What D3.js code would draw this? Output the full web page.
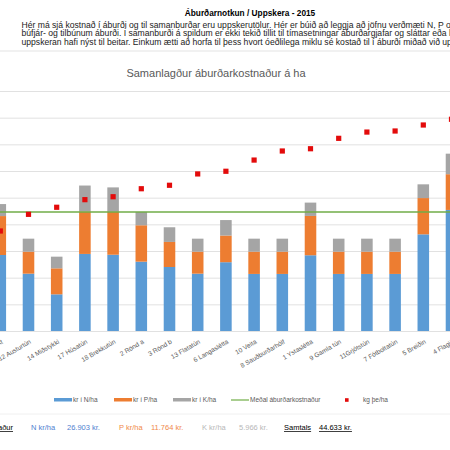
<!DOCTYPE html>
<html>
<head>
<meta charset="utf-8">
<script src="https://cdn.jsdelivr.net/npm/d3@7"></script>
<style>
  body { margin: 0; background: #fff; }
  svg { display: block; }
</style>
</head>
<body>
<div id="viz"></div>
<script>
// fields, sorted by yield
const fields = ["15 Nýrækt", "12 Austurtún", "14 Miðstykki", "17 Húsatún", "18 Brekkutún", "2 Rönd a",
  "3 Rönd b", "13 Flatatún", "6 Langaslétta", "10 Veita", "8 Sauðburðarhólf", "1 Ystaslétta",
  "9 Gamla tún", "11Grjótstún", "7 Fótboltatún", "5 Breiðin", "4 Flagið"];
// kr per ha
const krN = [28500, 21500, 13750, 28900, 28600, 26000, 24000, 21500, 25800, 21400, 21400, 28400, 21400, 21400, 21400, 36250, 45400];
const krP = [14600, 8250, 9750, 15900, 16100, 13650, 9400, 8250, 10000, 8350, 8350, 14750, 8350, 8350, 8350, 13600, 13400];
const krK = [4500, 4875, 4375, 9750, 9150, 5000, 5500, 4875, 5800, 4875, 4875, 5000, 4875, 4875, 4875, 5150, 7700];
// kg þe per ha
const kgHa = [3750, 4375, 4640, 4925, 5035, 5335, 5465, 5890, 5990, 6410, 6750, 6835, 7225, 7460, 7500, 7725, 7940];
const avgCost = 44633;

const seriesKeys = ["N", "P", "K"];
const seriesNames = ["kr í N/ha", "kr í P/ha", "kr í K/ha"];
const seriesColors = ["#5b9bd5", "#ed7d31", "#a5a5a5"];

const summaryLabels = ["N kr/ha", "P kr/ha", "K kr/ha"];
const summaryValues = ["26.903 kr.", "11.764 kr.", "5.966 kr."];
const summaryColors = ["#4f81d0", "#f08a4b", "#b8b8b8"];

const introLines = [
  "Hér má sjá kostnað í áburði og til samanburðar eru uppskerutölur. Hér er búið að leggja að jöfnu verðmæti N, P og K í",
  "búfjár- og tilbúnum áburði. Í samanburði á spildum er ekki tekið tillit til tímasetningar áburðargjafar og sláttar eða hvort",
  "uppskeran hafi nýst til beitar. Einkum ætti að horfa til þess hvort óeðlilega miklu sé kostað til í áburði miðað við uppskeru."
];

const W = 450, H = 450;
const svg = d3.select("#viz").append("svg")
  .attr("width", W).attr("height", H)
  .style("font-family", "'Liberation Sans', Arial, sans-serif");

//Header text
svg.append("text")
  .attr("x", 250).attr("y", 16)
  .attr("text-anchor", "middle")
  .style("font-size", "8.3px").style("font-weight", "bold")
  .text("Áburðarnotkun / Uppskera - 2015");

svg.selectAll(".intro").data(introLines).enter().append("text")
  .attr("class", "intro")
  .attr("x", 21.5)
  .attr("y", (d, i) => 27.5 + i * 8.5)
  .style("font-size", "8.6px")
  .style("fill", "#222")
  .text(d => d);

svg.append("line")
  .attr("x1", 0).attr("x2", W).attr("y1", 51).attr("y2", 51)
  .style("stroke", "#e3e3e3");

//Chart title
svg.append("text")
  .attr("x", 216).attr("y", 77)
  .attr("text-anchor", "middle")
  .style("font-size", "11px")
  .style("fill", "#595959")
  .text("Samanlagður áburðarkostnaður á ha");

//Scales
const x = d3.scaleBand()
  .domain(fields)
  .range([-13.8, 465.6])
  .paddingInner(0.59)
  .paddingOuter(0.295);

const y = d3.scaleLinear().domain([0, 90000]).range([331, 91]);
const y2 = d3.scaleLinear().domain([0, 9000]).range([331, 91]);

//Gridlines
svg.append("g")
  .attr("transform", "translate(-20,0)")
  .call(d3.axisLeft(y).ticks(9).tickSize(-(W + 40)).tickFormat(""))
  .call(g => g.select(".domain").remove())
  .call(g => g.selectAll("line").style("stroke", "#d9d9d9").style("stroke-width", 0.8));

//Stacked bars
const rows = fields.map((f, i) => ({ field: f, N: krN[i], P: krP[i], K: krK[i] }));
const stacked = d3.stack().keys(seriesKeys)(rows);

svg.append("g").selectAll("g").data(stacked).enter().append("g")
  .style("fill", (d, i) => seriesColors[i])
  .selectAll("rect").data(d => d).enter().append("rect")
  .attr("x", d => x(d.data.field))
  .attr("width", x.bandwidth())
  .attr("y", d => y(d[1]))
  .attr("height", d => y(d[0]) - y(d[1]));

//Average line
svg.append("line")
  .attr("x1", 0).attr("x2", W)
  .attr("y1", y(avgCost)).attr("y2", y(avgCost))
  .style("stroke", "#70ad47").style("stroke-width", 1.6);

//Yield points
svg.append("g").selectAll("rect").data(kgHa).enter().append("rect")
  .attr("x", (d, i) => x(fields[i]) + x.bandwidth() / 2 - 2.6)
  .attr("y", d => y2(d) - 2.6)
  .attr("width", 5.2).attr("height", 5.2)
  .style("fill", "#e30b0b");

//Category labels
const xAxis = svg.append("g")
  .attr("transform", "translate(0,331)")
  .call(d3.axisBottom(x).tickSize(0).tickFormat(d => d));
xAxis.select(".domain").remove();
xAxis.selectAll("text")
  .attr("text-anchor", "end")
  .attr("x", 0).attr("y", 0).attr("dy", 0)
  .attr("transform", "translate(3,12) rotate(-30)")
  .style("font-size", "6.5px")
  .style("font-family", "'Liberation Sans', Arial, sans-serif")
  .style("fill", "#595959");

//Legend
const legend = [
  { name: seriesNames[0], color: seriesColors[0], type: "bar", x: 54 },
  { name: seriesNames[1], color: seriesColors[1], type: "bar", x: 114 },
  { name: seriesNames[2], color: seriesColors[2], type: "bar", x: 173 },
  { name: "Meðal áburðarkostnaður", color: "#70ad47", type: "line", x: 231 },
  { name: "kg þe/ha", color: "#e30b0b", type: "dot", x: 345 }
];
const lg = svg.append("g").attr("transform", "translate(0,400)");
legend.forEach(d => {
  if (d.type === "bar") {
    lg.append("rect").attr("x", d.x).attr("y", -2).attr("width", 18).attr("height", 3.5).style("fill", d.color);
  } else if (d.type === "line") {
    lg.append("line").attr("x1", d.x).attr("x2", d.x + 18).attr("y1", 0).attr("y2", 0)
      .style("stroke", d.color).style("stroke-width", 1.2);
  } else {
    lg.append("rect").attr("x", d.x).attr("y", -1.8).attr("width", 3.6).attr("height", 3.6).style("fill", d.color);
  }
  lg.append("text")
    .attr("x", d.type === "dot" ? d.x + 18 : d.x + 19)
    .attr("y", 2.3)
    .style("font-size", "6.5px")
    .style("fill", "#595959")
    .text(d.name);
});

svg.append("line")
  .attr("x1", 0).attr("x2", W).attr("y1", 414).attr("y2", 414)
  .style("stroke", "#f0f0f0");

//Summary row
const sy = 430;
svg.append("text")
  .attr("x", 13).attr("y", sy).attr("text-anchor", "end")
  .style("font-size", "7.5px").style("text-decoration", "underline")
  .text("Áburðarkostnaður");

const sumX = [31, 119, 202];
const valX = [67, 151, 239];
summaryLabels.forEach((t, i) => {
  svg.append("text").attr("x", sumX[i]).attr("y", sy)
    .style("font-size", "7.5px").style("fill", summaryColors[i]).text(t);
  svg.append("text").attr("x", valX[i]).attr("y", sy)
    .style("font-size", "7.5px").style("fill", summaryColors[i]).text(summaryValues[i]);
});
svg.append("text").attr("x", 284).attr("y", sy)
  .style("font-size", "7.5px").style("text-decoration", "underline").text("Samtals");
svg.append("text").attr("x", 319).attr("y", sy)
  .style("font-size", "7.5px").style("text-decoration", "underline").text("44.633 kr.");
</script>
</body>
</html>
